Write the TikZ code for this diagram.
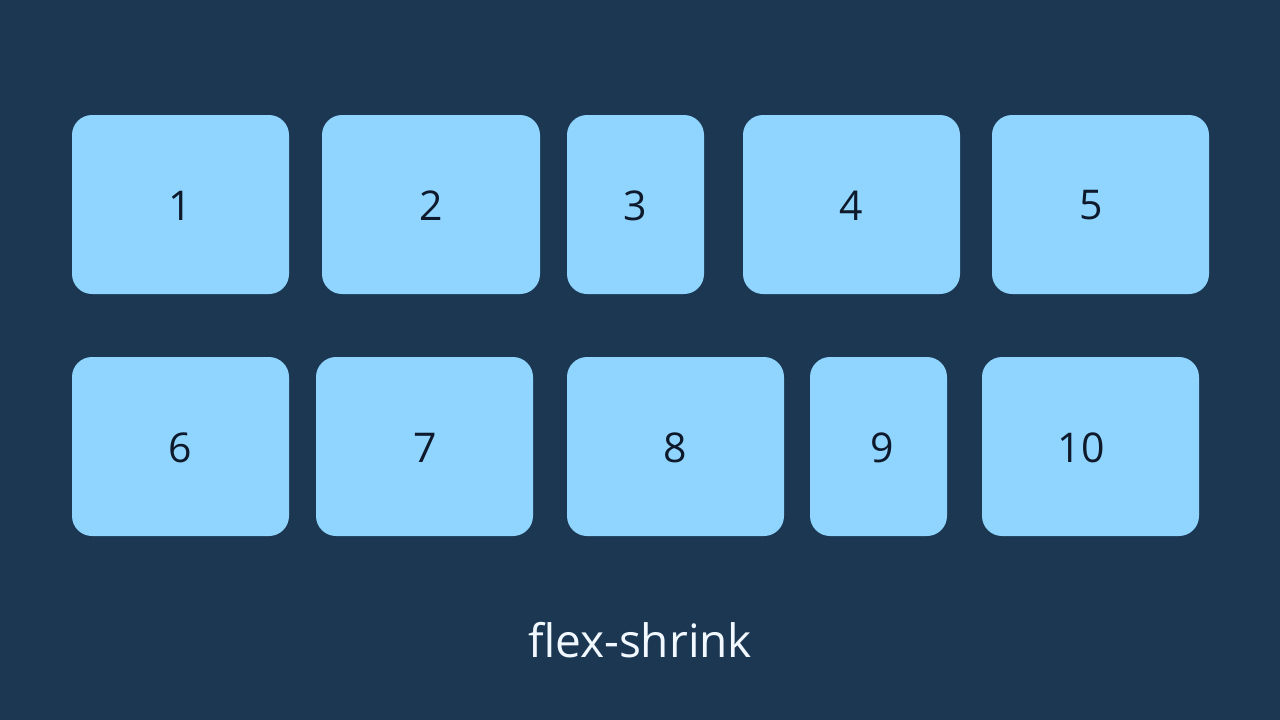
\documentclass[tikz,border=0pt]{standalone}
\usepackage{fontspec}
\setmainfont{Open Sans}
\definecolor{bg}{HTML}{1B3752}
\definecolor{boxc}{HTML}{90D5FF}
\definecolor{numc}{HTML}{0E1A2B}
\definecolor{labc}{HTML}{F2F8FF}
\begin{document}
\begin{tikzpicture}[x=1pt,y=-1pt,
  flexbox/.style={fill=boxc,draw=none,rounded corners=20pt,inner sep=0pt},
  numtext/.style={text=numc,inner sep=0pt,font=\fontsize{41}{46}\selectfont},
]
\fill[bg] (0,0) rectangle (1280,720);
\useasboundingbox (0,0) rectangle (1280,720);
\newcommand{\flexitem}[7]{%
  \node[flexbox,minimum width={(#4-#2)*1pt},minimum height={(#5-#3)*1pt}] (#1) at ({(#2+#4)/2},{(#3+#5)/2}) {};
  \node[numtext] (#1t) at (#7,{(#3+#5)/2+1}) {#6};}
\flexitem{b1}{72}{115}{289}{294}{1}{180}
\flexitem{b2}{322}{115}{540}{294}{2}{431}
\flexitem{b3}{567}{115}{704}{294}{3}{635}
\flexitem{b4}{743}{115}{960}{294}{4}{851}
\flexitem{b5}{992}{115}{1209}{294}{5}{1091}
\flexitem{b6}{72}{357}{289}{536}{6}{180}
\flexitem{b7}{316}{357}{533}{536}{7}{425}
\flexitem{b8}{567}{357}{784}{536}{8}{675}
\flexitem{b9}{810}{357}{947}{536}{9}{882}
\flexitem{b10}{982}{357}{1199}{536}{10}{1081}
\node[text=labc,font=\fontsize{46}{52}\selectfont,inner sep=0pt,anchor=base] (lab) at (640,657) {flex-shrink};
\end{tikzpicture}
\end{document}
